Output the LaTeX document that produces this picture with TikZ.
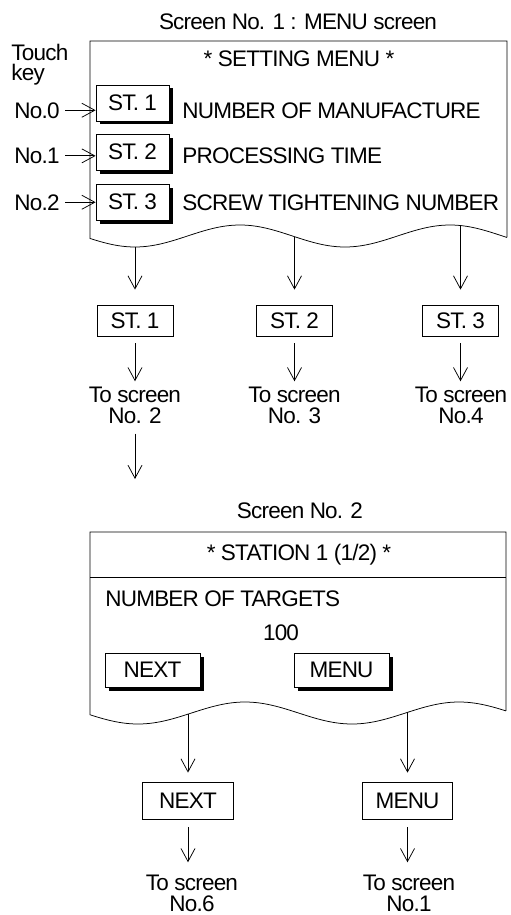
\documentclass[tikz,border=0pt]{standalone}
\usepackage{fontspec}
\setmainfont{Liberation Sans}[LetterSpace=-3.5]
\usetikzlibrary{arrows.meta,shadows}
\newcommand\dgfont{\fontsize{22.5}{21}\selectfont}
\begin{document}
\begin{tikzpicture}[x=1pt,y=-1pt, font=\dgfont, line width=0.75pt,
  declare function={fa(\x)=236+11*cos((\x-135)*1.7142857); fb(\x)=713+11*cos((\x-138)*1.682243);},
  arr/.style={-{Straight Barb[length=13pt,width=14pt]}},
  btn/.style={draw, fill=white, inner sep=0pt, minimum width=73pt, minimum height=36pt,
    drop shadow={shadow xshift=3.5pt, shadow yshift=-3.5pt, fill=black, opacity=1}},
  btnw/.style={btn, minimum width=95pt, minimum height=34pt},
  box/.style={draw, inner sep=0pt, minimum width=76pt, minimum height=31pt},
  boxw/.style={draw, inner sep=0pt, minimum width=91pt, minimum height=37pt},
  lbl/.style={inner sep=0pt},
  two/.style={align=center, inner sep=0pt}]
\useasboundingbox (0,0) rectangle (511,915);

% ---------- Screen 1 ----------
\node[lbl] (t1) at (298,22) {Screen No. 1 : MENU screen};
\node[lbl, anchor=north west, align=left, font=\fontsize{22.5}{20.5}\selectfont] (tk) at (11,43.5) {Touch\\key};

\draw (507,{fa(507)}) -- (507,41) -- (90,41) -- plot[domain=90:507,samples=120] (\x,{fa(\x)});

\node[lbl] (sm) at (299,59) {* SETTING MENU *};

\node[btn] (st1) at (132.5,103) {ST. 1};
\node[btn] (st2) at (132.5,152) {ST. 2};
\node[btn] (st3) at (132.5,202) {ST. 3};

\node[lbl, anchor=base west] (m1) at (182,118) {NUMBER OF MANUFACTURE};
\node[lbl, anchor=base west] (m2) at (182,163.5) {PROCESSING TIME};
\node[lbl, anchor=base west] (m3) at (182,210) {SCREW TIGHTENING NUMBER};

\node[lbl, anchor=base east] (n0) at (60,118) {No.0};
\node[lbl, anchor=base east] (n1) at (60,163.5) {No.1};
\node[lbl, anchor=base east] (n2) at (60,210) {No.2};
\draw[arr, shorten <=5pt] (n0.east) -- (n0.east -| st1.west);
\draw[arr, shorten <=5pt] (n1.east) -- (n1.east -| st2.west);
\draw[arr, shorten <=5pt] (n2.east) -- (n2.east -| st3.west);

\coordinate (w1) at (135,{fa(135)});
\coordinate (w2) at (294.5,{fa(294.5)});
\coordinate (w3) at (460.5,{fa(460.5)});

\node[box] (sb1) at (135,320.5) {ST. 1};
\node[box] (sb2) at (294.5,320.5) {ST. 2};
\node[box] (sb3) at (460.5,320.5) {ST. 3};

\draw[arr, shorten >=15pt] (w1) -- (sb1.north);
\draw[arr, shorten >=15pt] (w2) -- (sb2.north);
\draw[arr, shorten >=15pt] (w3) -- (sb3.north);

\node[two] (ts1) at (135,405) {To screen\\No. 2};
\node[two] (ts2) at (294.5,405) {To screen\\No. 3};
\node[two] (ts3) at (461,405) {To screen\\No.4};

\draw[arr, shorten <=7pt, shorten >=5pt] (sb1.south) -- (sb1.south |- ts1.north);
\draw[arr, shorten <=7pt, shorten >=5pt] (sb2.south) -- (sb2.south |- ts2.north);
\draw[arr, shorten <=7pt, shorten >=5pt] (sb3.south) -- (sb3.south |- ts3.north);

\coordinate (d1) at (135,479);
\draw[arr, shorten <=10pt] (ts1.south) -- (d1);

% ---------- Screen 2 ----------
\node[lbl] (t2) at (300,511) {Screen No. 2};
\draw (506,{fb(506)}) -- (506,532) -- (90,532) -- plot[domain=90:506,samples=120] (\x,{fb(\x)});
\draw (90,577) -- (506,577);

\node[lbl, anchor=base] (sta) at (299,560) {* STATION 1 (1/2) *};
\node[lbl, anchor=base west] (nt) at (105,606) {NUMBER OF TARGETS};
\node[lbl, anchor=base] (hund) at (281,640) {100};

\node[btnw] (bn) at (152.5,670) {NEXT};
\node[btnw] (bm) at (341.5,670) {MENU};

\coordinate (v1) at (188,{fb(188)});
\coordinate (v2) at (407.5,{fb(407.5)});

\node[boxw] (nb) at (188,800.5) {NEXT};
\node[boxw, minimum width=90pt] (mb) at (407.5,800.5) {MENU};

\draw[arr, shorten >=9pt] (v1) -- (nb.north);
\draw[arr, shorten >=9pt] (v2) -- (mb.north);

\node[two] (ts4) at (192,893) {To screen\\No.6};
\node[two] (ts5) at (409,893) {To screen\\No.1};

\draw[arr, shorten <=8pt, shorten >=12pt] (nb.south) -- (nb.south |- ts4.north);
\draw[arr, shorten <=8pt, shorten >=12pt] (mb.south) -- (mb.south |- ts5.north);
\end{tikzpicture}
\end{document}
